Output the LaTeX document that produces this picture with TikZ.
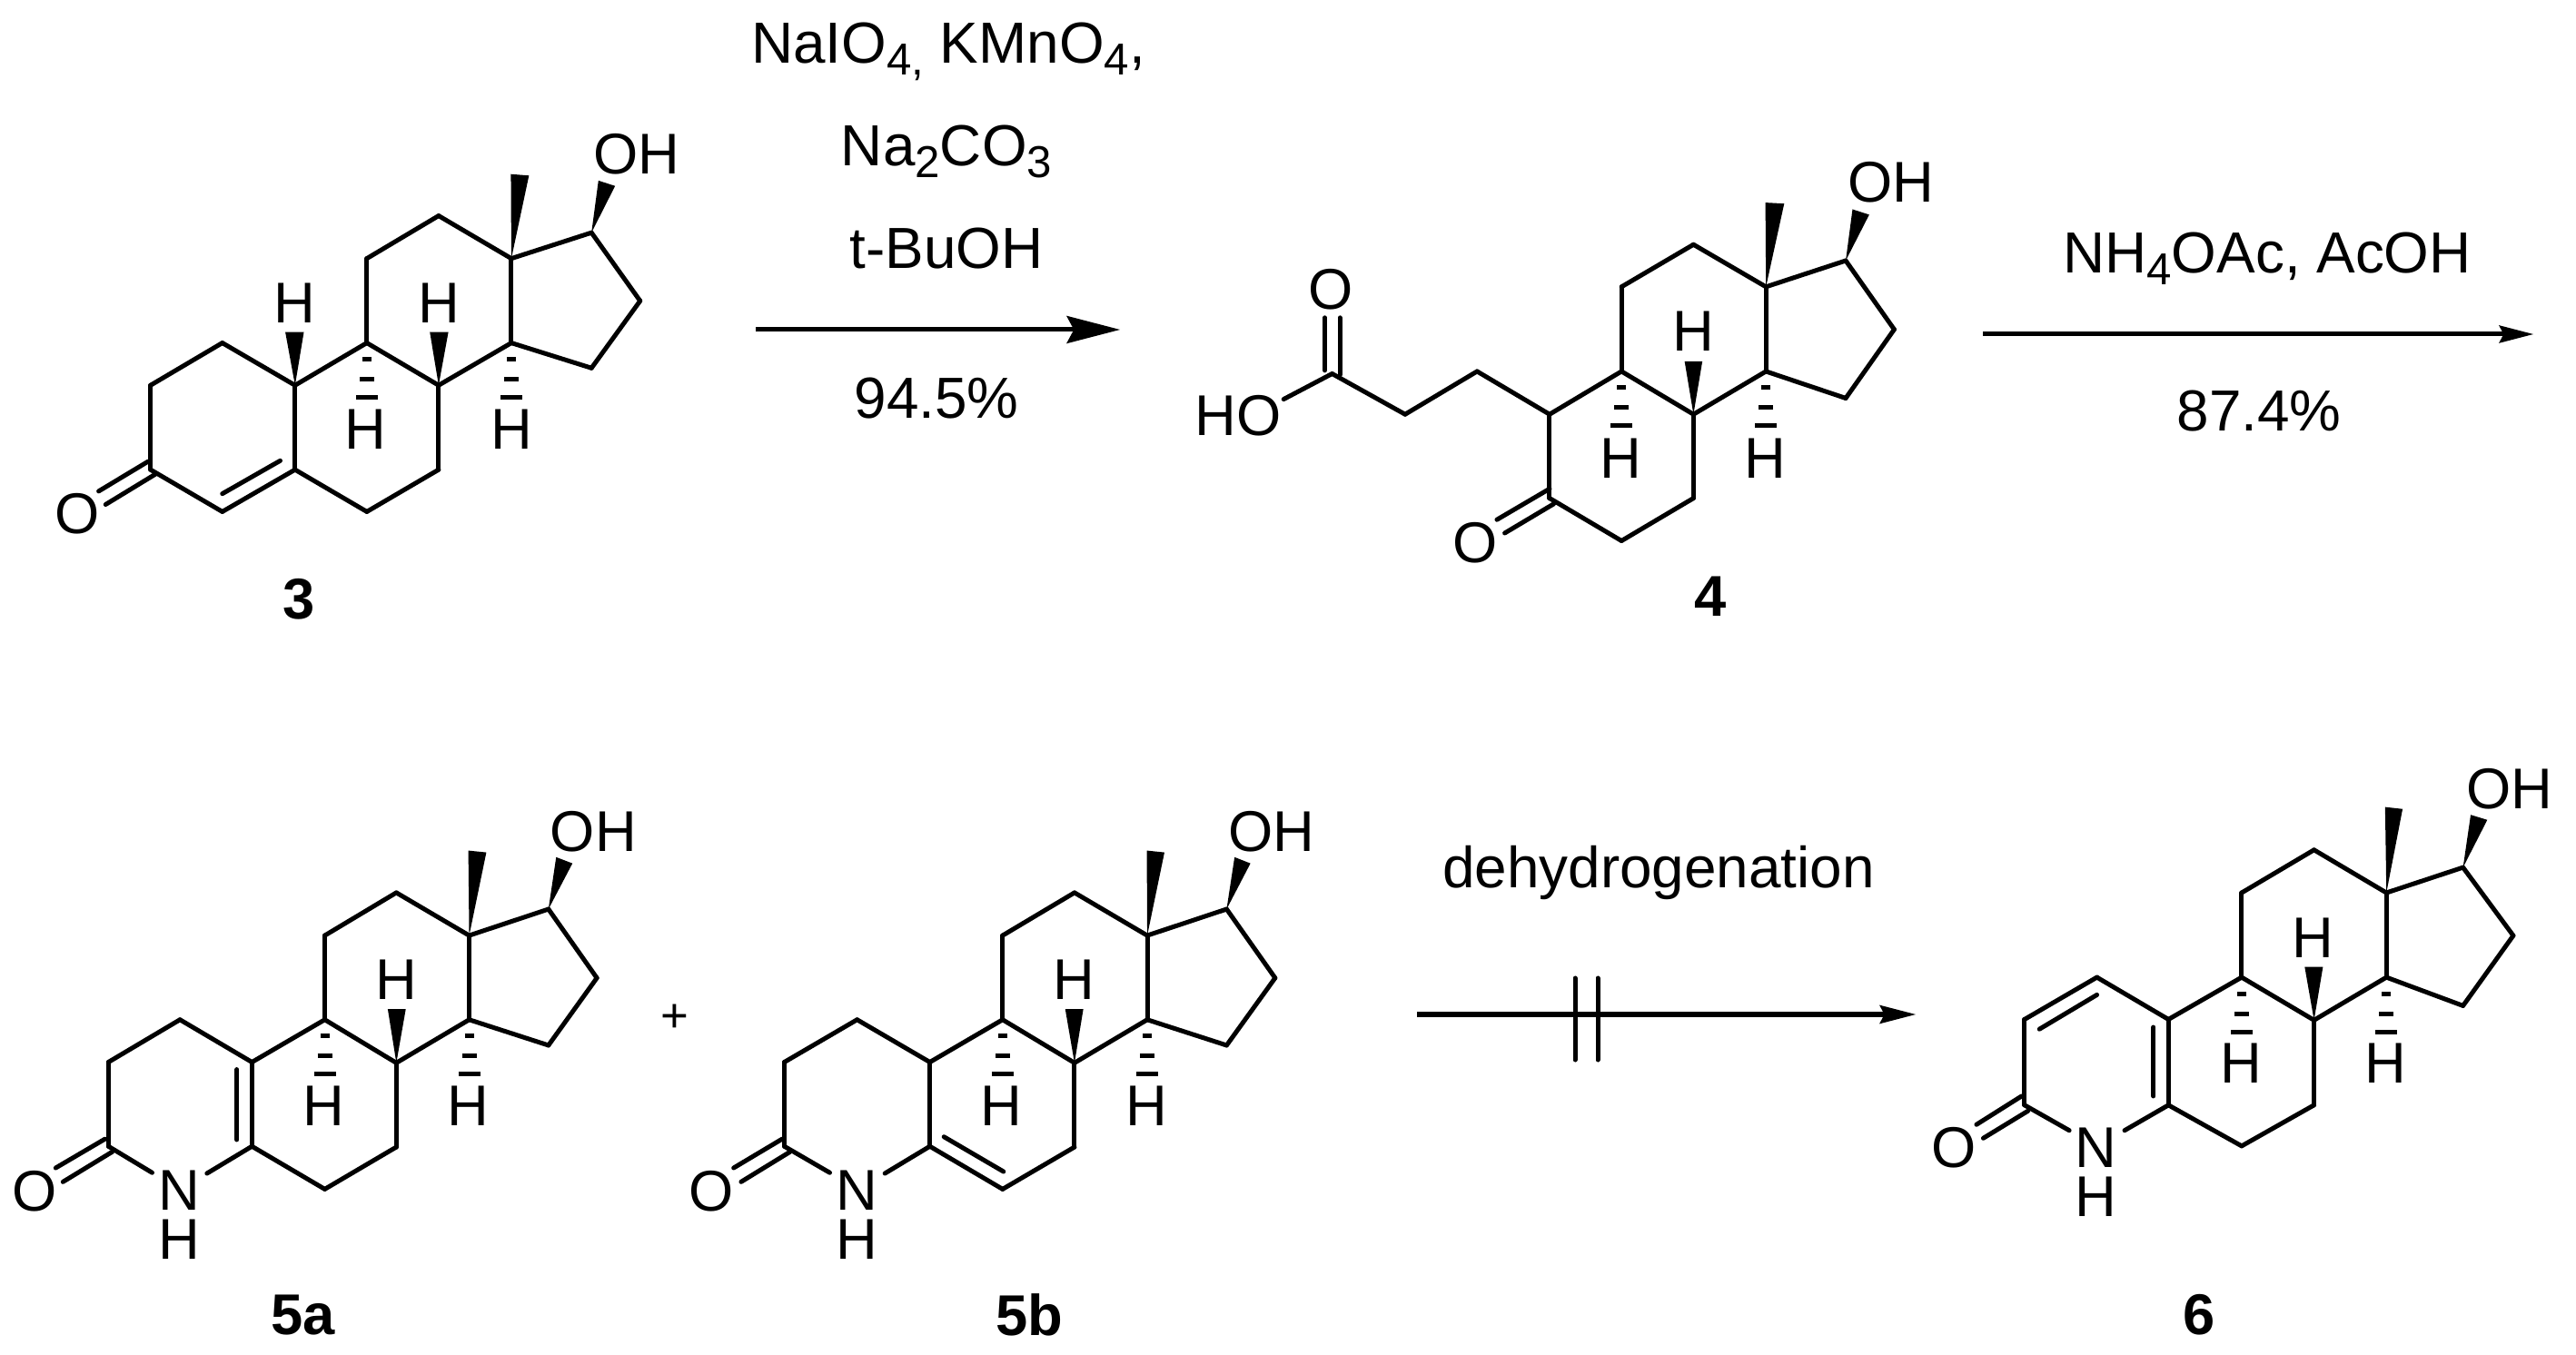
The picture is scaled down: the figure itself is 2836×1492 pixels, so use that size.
\documentclass[tikz,border=0pt]{standalone}
\usepackage{fontspec}
\setmainfont{Liberation Sans}
\newcommand{\sbs}[1]{\raisebox{-0.13cm}{\fontsize{14}{15}\selectfont #1}}
\newcommand{\hashes}[1]{%
  \draw[hashline] ([shift={(-5,18)}]#1) -- ([shift={(5,18)}]#1);
  \draw[hashline] ([shift={(-8,40)}]#1) -- ([shift={(8,40)}]#1);
  \draw[hashline] ([shift={(-12,60)}]#1) -- ([shift={(12,60)}]#1);}
\tikzset{
  bond/.style={line width=0.05cm,line cap=round,line join=round,black},
  hashline/.style={line width=0.05cm,black},
  wedgefill/.style={fill=black,draw=none},
  atom/.style={inner sep=0pt,outer sep=0pt,font=\fontsize{18}{15.4}\selectfont,text=black,align=center},
  cpd/.style={inner sep=0pt,outer sep=0pt,font=\fontsize{18}{20}\selectfont\bfseries,text=black},
  txt/.style={inner sep=0pt,outer sep=0pt,anchor=base,font=\fontsize{18.15}{20}\selectfont,text=black},
  rxnline/.style={line width=0.05cm,black},
}
\newcommand{\arrowhead}[3]{% tip x, y, length
  \fill[black] (#1,#2) -- ({#1-#3},{#2-#3*0.26}) -- ({#1-#3*0.86},#2) -- ({#1-#3},{#2+#3*0.26}) -- cycle;}
\begin{document}
\begin{tikzpicture}[x=0.01cm,y=-0.01cm]
\fill[white] (0,0) rectangle (2836,1492);
\useasboundingbox (0,0) rectangle (2836,1492);

% ---------- compound 3
\begin{scope}[shift={(0,100)},x=0.0051cm,y=-0.00395cm,name prefix=a-]
\foreach \n/\p in {c1/{480,702},c2/{325,820},c3/{325,1055},c4/{480,1172},c5/{637,1055},c6/{792,1172},c7/{947,1055},c8/{947,820},c9/{792,702},c10/{637,820},c11/{792,467},c12/{947,348},c13/{1104,467},c14/{1104,702},c15/{1277,772},c16/{1382,585},c17/{1277,395}}
  \coordinate (\n) at (\p);
\foreach \s/\e in {c1/c2,c2/c3,c3/c4,c4/c5,c5/c6,c6/c7,c7/c8,c8/c9,c9/c10,c10/c1,c5/c10,c9/c11,c11/c12,c12/c13,c13/c14,c14/c8,c14/c15,c15/c16,c16/c17,c17/c13}
  \draw[bond] (\s) -- (\e);
\draw[bond] (480,1122) -- (605,1030);
\draw[bond] (320,1032) -- (213,1115);
\draw[bond] (335,1068) -- (228,1152);
\fill[wedgefill] (c13) -- (1103,232) -- (1142,236) -- cycle;
\fill[wedgefill] (c17) -- (1292,250) -- (1328,265) -- cycle;
\fill[wedgefill] (c10) -- (616,672) -- (656,672) -- cycle;
\fill[wedgefill] (c8) -- (928,672) -- (968,672) -- cycle;
\node[atom] (hc10) at (636,590) {H};
\node[atom] (hc8) at (947,590) {H};
\node[atom] (hc9) at (790,942) {H};
\node[atom] (hc14) at (1104,942) {H};
\node[atom] (ok) at (167,1178) {O};
\node[atom] (oh) at (1375,177) {OH};
\node[cpd] (lbl) at (645,1415) {3};
\end{scope}
\hashes{a-c9}
\hashes{a-c14}

% ---------- compound 4
\begin{scope}[shift={(1280,130)},x=0.00574cm,y=-0.0037cm,name prefix=b-]
\foreach \n/\p in {ca/{325,762},cb/{465,883},cc/{603,755},c1/{742,883},c2/{742,1133},c3/{880,1260},c4/{1018,1133},c5/{1018,883},c6/{880,755},c7/{880,503},c8/{1018,377},c9/{1157,503},c10/{1157,755},c11/{1310,425},c12/{1403,630},c13/{1310,835},ho/{232,838}}
  \coordinate (\n) at (\p);
\foreach \s/\e in {ho/ca,ca/cb,cb/cc,cc/c1,c1/c2,c2/c3,c3/c4,c4/c5,c5/c6,c6/c1,c6/c7,c7/c8,c8/c9,c9/c10,c10/c5,c10/c13,c13/c12,c12/c11,c11/c9}
  \draw[bond] (\s) -- (\e);
\draw[bond] (311,595) -- (311,752);
\draw[bond] (340,595) -- (340,765);
\draw[bond] (742,1105) -- (641,1197);
\draw[bond] (750,1150) -- (656,1237);
\fill[wedgefill] (c9) -- (1156,252) -- (1192,255) -- cycle;
\fill[wedgefill] (c11) -- (1323,272) -- (1355,288) -- cycle;
\fill[wedgefill] (c5) -- (1001,725) -- (1035,725) -- cycle;
\node[atom] (h5) at (1018,635) {H};
\node[atom] (h6) at (878,1013) {H};
\node[atom] (h10) at (1155,1013) {H};
\node[atom] (oa) at (323,510) {O};
\node[atom] (hoa) at (145,888) {HO};
\node[atom] (ok) at (600,1265) {O};
\node[atom] (oh) at (1397,192) {OH};
\node[cpd] (lbl) at (1050,1427) {4};
\end{scope}
\hashes{b-c6}
\hashes{b-c10}

% ---------- compound 5a
\begin{scope}[shift={(0,860)},x=0.00472cm,y=-0.00403cm,name prefix=c-]
\foreach \n/\p in {c1/{253,768},c2/{420,652},c3/{588,768},c4/{588,998},c5/{253,998},c6/{758,652},c7/{758,422},c8/{925,305},c9/{1095,422},c10/{1095,652},c11/{925,770},c12/{925,1000},c13/{758,1115},c14/{1280,350},c15/{1393,538},c16/{1280,722},nl/{355,1070},nr/{483,1072}}
  \coordinate (\n) at (\p);
\foreach \s/\e in {c1/c2,c2/c3,c3/c4,c1/c5,c5/nl,c4/nr,c3/c6,c6/c7,c7/c8,c8/c9,c9/c10,c10/c11,c11/c6,c11/c12,c12/c13,c13/c4,c10/c16,c16/c15,c15/c14,c14/c9}
  \draw[bond] (\s) -- (\e);
\draw[bond] (553,788) -- (553,980);
\draw[bond] (245,978) -- (130,1057);
\draw[bond] (262,1013) -- (147,1095);
\fill[wedgefill] (c9) -- (1093,190) -- (1135,195) -- cycle;
\fill[wedgefill] (c14) -- (1298,208) -- (1336,225) -- cycle;
\fill[wedgefill] (c11) -- (905,623) -- (947,623) -- cycle;
\node[atom] (h11) at (925,543) {H};
\node[atom] (h6) at (756,888) {H};
\node[atom] (h10) at (1093,888) {H};
\node[atom] (nh) at (418,1185) {N\\H};
\node[atom] (ok) at (80,1120) {O};
\node[atom] (oh) at (1385,137) {OH};
\node[cpd] (lbl) at (707,1458) {5a};
\end{scope}
\hashes{c-c6}
\hashes{c-c10}

\node[inner sep=0pt,font=\fontsize{15}{16}\selectfont] (plus) at (743,1121) {+};

% ---------- compound 5b
\begin{scope}[shift={(730,860)},x=0.00485cm,y=-0.00403cm,name prefix=d-]
\foreach \n/\p in {c1/{275,768},c2/{440,652},c3/{605,768},c4/{605,998},c5/{275,998},c6/{770,652},c7/{770,422},c8/{933,305},c9/{1098,422},c10/{1098,652},c11/{933,770},c12/{933,1000},c13/{770,1115},c14/{1278,350},c15/{1388,538},c16/{1278,722},nl/{378,1070},nr/{503,1072}}
  \coordinate (\n) at (\p);
\foreach \s/\e in {c1/c2,c2/c3,c3/c4,c1/c5,c5/nl,c4/nr,c3/c6,c6/c7,c7/c8,c8/c9,c9/c10,c10/c11,c11/c6,c11/c12,c12/c13,c13/c4,c10/c16,c16/c15,c15/c14,c14/c9}
  \draw[bond] (\s) -- (\e);
\draw[bond] (637,972) -- (772,1067);
\draw[bond] (270,978) -- (160,1057);
\draw[bond] (288,1013) -- (177,1095);
\fill[wedgefill] (c9) -- (1097,190) -- (1137,195) -- cycle;
\fill[wedgefill] (c14) -- (1296,208) -- (1332,225) -- cycle;
\fill[wedgefill] (c11) -- (912,623) -- (953,623) -- cycle;
\node[atom] (h11) at (932,543) {H};
\node[atom] (h6) at (768,888) {H};
\node[atom] (h10) at (1096,888) {H};
\node[atom] (nh) at (440,1185) {N\\H};
\node[atom] (ok) at (110,1120) {O};
\node[atom] (oh) at (1380,137) {OH};
\node[cpd] (lbl) at (830,1458) {5b};
\end{scope}
\hashes{d-c6}
\hashes{d-c10}

% ---------- compound 6
\begin{scope}[shift={(2100,820)},x=0.00469cm,y=-0.00429cm,name prefix=e-]
\foreach \n/\p in {c1/{275,705},c2/{445,597},c3/{613,705},c4/{613,925},c5/{275,925},c6/{785,597},c7/{785,380},c8/{955,270},c9/{1125,380},c10/{1125,597},c11/{955,707},c12/{955,925},c13/{785,1030},c14/{1305,315},c15/{1423,490},c16/{1305,670},nl/{380,990},nr/{510,990}}
  \coordinate (\n) at (\p);
\foreach \s/\e in {c1/c2,c2/c3,c3/c4,c1/c5,c5/nl,c4/nr,c3/c6,c6/c7,c7/c8,c8/c9,c9/c10,c10/c11,c11/c6,c11/c12,c12/c13,c13/c4,c10/c16,c16/c15,c15/c14,c14/c9}
  \draw[bond] (\s) -- (\e);
\draw[bond] (310,730) -- (445,642);
\draw[bond] (578,725) -- (578,902);
\draw[bond] (268,902) -- (162,975);
\draw[bond] (283,940) -- (178,1010);
\fill[wedgefill] (c9) -- (1122,160) -- (1163,165) -- cycle;
\fill[wedgefill] (c14) -- (1323,180) -- (1362,193) -- cycle;
\fill[wedgefill] (c11) -- (933,570) -- (976,570) -- cycle;
\node[atom] (h11) at (953,495) {H};
\node[atom] (h6) at (783,818) {H};
\node[atom] (h10) at (1123,818) {H};
\node[atom] (nh) at (443,1098) {N\\H};
\node[atom] (ok) at (110,1035) {O};
\node[atom] (oh) at (1414,113) {OH};
\node[cpd] (lbl) at (685,1462) {6};
\end{scope}
\hashes{e-c6}
\hashes{e-c10}

% ---------- reaction arrows
\coordinate (r1s) at (832,363); \coordinate (r1e) at (1190,363);
\draw[rxnline] (r1s) -- (r1e);
\arrowhead{1233}{363}{59}
\coordinate (r2s) at (2183,368); \coordinate (r2e) at (2760,368);
\draw[rxnline] (r2s) -- (r2e);
\arrowhead{2789}{368}{38}
\coordinate (r3s) at (1560,1117); \coordinate (r3e) at (2080,1117);
\draw[rxnline] (r3s) -- (r3e);
\arrowhead{2109}{1117}{40}
\coordinate (b1t) at (1734,1077); \coordinate (b1b) at (1734,1167);
\coordinate (b2t) at (1759,1077); \coordinate (b2b) at (1759,1167);
\draw[bond] (b1t) -- (b1b);
\draw[bond] (b2t) -- (b2b);

% ---------- reaction texts
\node[txt] (t1) at (1044,70) {NaIO\sbs{4,} KMnO\sbs{4},};
\node[txt] (t2) at (1042,183) {Na\sbs{2}CO\sbs{3}};
\node[txt] (t3) at (1042,296) {t-BuOH};
\node[txt] (t4) at (1031,461) {94.5\%};
\node[txt] (t5) at (2496,301) {NH\sbs{4}OAc, AcOH};
\node[txt] (t6) at (2487,475) {87.4\%};
\node[txt] (t7) at (1826,978) {dehydrogenation};
\end{tikzpicture}
\end{document}
